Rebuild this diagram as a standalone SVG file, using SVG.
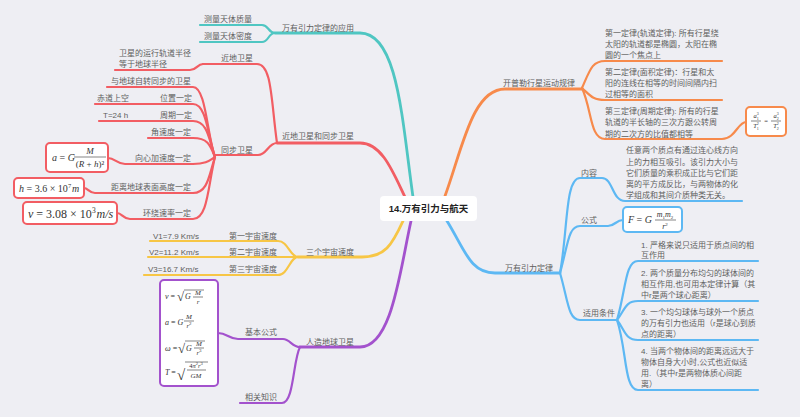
<svg xmlns="http://www.w3.org/2000/svg" width="800" height="417" viewBox="0 0 800 417">
<style>
.t{font-family:"Liberation Sans","Noto Sans CJK SC",sans-serif;font-size:8px;fill:#5e5e5e}
.c{font-family:"Liberation Sans","Noto Sans CJK SC",sans-serif;font-size:9.5px;font-weight:bold;fill:#222}
.m{font-family:"Liberation Serif",serif;font-style:italic;fill:#333}
.n{font-style:normal}
.fb{stroke:#333;stroke-width:0.6}
path{fill:none;stroke-linecap:round;stroke-linejoin:round}
.teal{stroke:#4fc6c2;stroke-width:2.2}
.red{stroke:#f25d63;stroke-width:2.2}
.org{stroke:#f78a4b;stroke-width:2.2}
.yel{stroke:#f7c645;stroke-width:2.2}
.pur{stroke:#a352cd;stroke-width:2.2}
.blu{stroke:#5db8f3;stroke-width:2.2}
.main{stroke-width:2.8}
.box{fill:#fff;stroke-width:2}
</style>
<rect width="800" height="417" fill="#eeeef3"/>
<g id="connectors">
<path class="teal main" d="M413,197 C402,120 398,33 360,33 H275"/>
<path class="teal" d="M275,33 C268,33 269,25 262,25 H200"/>
<path class="teal" d="M275,33 C268,33 269,42 262,42 H200"/>
<path class="red main" d="M405,197 C393,172 382,143 360,143 H277"/>
<path class="red" d="M277,143 C271,100 272,64 257,64 H203"/>
<path class="red" d="M203,64 C197,64 197,70 190,70 H115"/>
<path class="red" d="M277,143 C268,143 267,155 258,155 H215"/>
<path class="red" d="M215,157 C207,135 206,87 193,87 H107"/>
<path class="red" d="M215,157 C208,138 207,104 193,104 H95"/>
<path class="red" d="M215,157 C209,140 208,121 193,121 H99"/>
<path class="red" d="M215,157 C210,145 208,138 193,138 H148"/>
<path class="red" d="M215,157 C210,160 207,164 193,164 H125 C117,164 115,158 108,158"/>
<path class="red" d="M215,157 C209,175 208,193 193,193 H95 C89,193 88,188 84,188"/>
<path class="red" d="M215,157 C208,185 208,219 193,219 H130 C123,219 122,213 117,213"/>
<path class="yel main" d="M403,221 C392,245 385,257 362,257 H298"/>
<path class="yel" d="M298,257 C290,257 288,241 278,241 H150"/>
<path class="yel" d="M298,257 H148"/>
<path class="yel" d="M298,257 C290,257 288,275 278,275 H144"/>
<path class="pur main" d="M411,221 C400,270 392,347 360,347 H300"/>
<path class="pur" d="M300,347 C292,347 290,339 283,339 H238 C229,339 227,333 218,333"/>
<path class="pur" d="M300,347 C293,360 294,403 282,403 H240"/>
<path class="org main" d="M445,196 C462,150 472,89 505,89 H582"/>
<path class="org" d="M582,88 C590,70 592,61 605,61 H722"/>
<path class="org" d="M582,88 C590,95 592,100 605,100 H722"/>
<path class="org" d="M582,88 C592,110 590,139 605,139 H722 C735,139 738,122 746,122"/>
<path class="blu main" d="M447,221 C465,250 470,273 495,273 H560"/>
<path class="blu" d="M560,273 C568,230 565,178 580,178 H602 C613,178 612,201 625,201 H742"/>
<path class="blu" d="M560,273 C568,245 568,226 580,226 H608 C615,226 616,220 623,220"/>
<path class="blu" d="M560,273 C568,300 568,320 580,320 H617"/>
<path class="blu" d="M617,320 C626,290 625,261 638,261 H758"/>
<path class="blu" d="M617,320 C625,310 625,301 638,301 H758"/>
<path class="blu" d="M617,320 C625,330 625,340 638,340 H758"/>
<path class="blu" d="M617,320 C627,350 624,390 638,390 H758"/>
</g>

<g id="root">
<rect x="380" y="196" width="97" height="25" rx="4" fill="#fff"/>
<text class="c" x="428.5" y="212" text-anchor="middle">14.万有引力与航天</text>
</g>

<g id="n-app"><text class="t" x="282" y="31">万有引力定律的应用</text></g>
<g id="n-mass"><text class="t" x="204" y="22" font-size="9.3">测量天体质量</text></g>
<g id="n-density"><text class="t" x="204" y="39" font-size="9.3">测量天体密度</text></g>

<g id="n-sat"><text class="t" x="282" y="139">近地卫星和同步卫星</text></g>
<g id="n-near"><text class="t" x="221" y="61">近地卫星</text></g>
<g id="n-near-r"><text class="t" x="119" y="56">卫星的运行轨道半径</text><text class="t" x="119" y="67">等于地球半径</text></g>
<g id="n-sync"><text class="t" x="221" y="153">同步卫星</text></g>
<g id="n-s1"><text class="t" x="111" y="84">与地球自转同步的卫星</text></g>
<g id="n-s2"><text class="t" x="160" y="101">位置一定</text></g>
<g id="n-s2a"><text class="t" x="97" y="101">赤道上空</text></g>
<g id="n-s3"><text class="t" x="160" y="118">周期一定</text></g>
<g id="n-s3a"><text class="t" x="103" y="118">T=24 h</text></g>
<g id="n-s4"><text class="t" x="151" y="135">角速度一定</text></g>
<g id="n-s5"><text class="t" x="135" y="161">向心加速度一定</text></g>
<g id="n-s5a">
<rect class="red box" x="46" y="143" width="62" height="29" rx="4"/>
<text class="m" x="52" y="161" font-size="10">a <tspan class="n">=</tspan> G</text>
<text class="m" x="90" y="154" font-size="9" text-anchor="middle">M</text>
<line class="fb" x1="74" y1="157" x2="106" y2="157"/>
<text class="m" x="90" y="167" font-size="9" text-anchor="middle"><tspan class="n">(</tspan>R <tspan class="n">+</tspan> h<tspan class="n">)²</tspan></text>
</g>
<g id="n-s6"><text class="t" x="111" y="190">距离地球表面高度一定</text></g>
<g id="n-s6a">
<rect class="red box" x="14" y="178" width="70" height="20" rx="4"/>
<text class="m" x="19" y="192" font-size="10">h <tspan class="n">= 3.6 × 10</tspan></text>
<text class="m n" x="68" y="188" font-size="6.5">7</text>
<text class="m" x="72" y="192" font-size="10">m</text>
</g>
<g id="n-s7"><text class="t" x="143" y="216">环绕速率一定</text></g>
<g id="n-s7a">
<rect class="red box" x="23" y="202" width="94" height="22" rx="4"/>
<text class="m" x="28" y="217.5" font-size="12">v <tspan class="n">= 3.08 × 10</tspan></text>
<text class="m n" x="92" y="212.5" font-size="7.5">3</text>
<text class="m" x="96.5" y="217.5" font-size="12">m/s</text>
</g>

<g id="n-cosmic"><text class="t" x="306" y="255">三个宇宙速度</text></g>
<g id="n-c1"><text class="t" x="229" y="239">第一宇宙速度</text><text class="t" x="153" y="239">V1=7.9 Km/s</text></g>
<g id="n-c2"><text class="t" x="229" y="255">第二宇宙速度</text><text class="t" x="149" y="255">V2=11.2 Km/s</text></g>
<g id="n-c3"><text class="t" x="229" y="272">第三宇宙速度</text><text class="t" x="148" y="272">V3=16.7 Km/s</text></g>

<g id="n-artificial"><text class="t" x="306" y="345">人造地球卫星</text></g>
<g id="n-basic"><text class="t" x="245" y="335">基本公式</text></g>
<g id="n-basic-box">
<rect class="pur box" x="160" y="280" width="58" height="106" rx="4"/>
<text class="m" x="165" y="299" font-size="8">v <tspan class="n">=</tspan></text>
<text class="m n" x="177" y="301" font-size="13" font-style="normal">√</text>
<line class="fb" x1="184" y1="290" x2="204" y2="290"/>
<text class="m" x="185" y="299" font-size="8">G</text>
<text class="m" x="198" y="295" font-size="7" text-anchor="middle">M</text>
<line class="fb" x1="193" y1="297" x2="203" y2="297"/>
<text class="m" x="198" y="304" font-size="7" text-anchor="middle">r</text>

<text class="m" x="165" y="325" font-size="8">a <tspan class="n">=</tspan> G</text>
<text class="m" x="189" y="319" font-size="7" text-anchor="middle">M</text>
<line class="fb" x1="184" y1="321" x2="194" y2="321"/>
<text class="m" x="189" y="328" font-size="7" text-anchor="middle">r<tspan class="n" font-size="5" dy="-3">2</tspan></text>

<text class="m" x="165" y="351" font-size="8">ω <tspan class="n">=</tspan></text>
<text class="m n" x="178" y="353" font-size="13" font-style="normal">√</text>
<line class="fb" x1="185" y1="341" x2="205" y2="341"/>
<text class="m" x="186" y="351" font-size="8">G</text>
<text class="m" x="199" y="346" font-size="7" text-anchor="middle">M</text>
<line class="fb" x1="194" y1="348" x2="204" y2="348"/>
<text class="m" x="199" y="355" font-size="7" text-anchor="middle">r<tspan class="n" font-size="5" dy="-3">3</tspan></text>

<text class="m" x="165" y="375" font-size="8">T <tspan class="n">=</tspan></text>
<text class="m n" x="177" y="380" font-size="15" font-style="normal">√</text>
<line class="fb" x1="185" y1="362" x2="208" y2="362"/>
<text class="m" x="196" y="368" font-size="6.5" text-anchor="middle"><tspan class="n">4</tspan>π<tspan class="n" font-size="4.5" dy="-3">2</tspan><tspan dy="3">r</tspan><tspan class="n" font-size="4.5" dy="-3">3</tspan></text>
<line class="fb" x1="187" y1="370" x2="206" y2="370"/>
<text class="m" x="196" y="378" font-size="7" text-anchor="middle">GM</text>
</g>
<g id="n-related"><text class="t" x="245" y="400">相关知识</text></g>

<g id="n-kepler"><text class="t" x="503" y="86">开普勒行星运动规律</text></g>
<g id="n-k1"><text class="t" x="605" y="36">第一定律(轨道定律): 所有行星绕</text><text class="t" x="605" y="47">太阳的轨道都是椭圆，太阳在椭</text><text class="t" x="605" y="58">圆的一个焦点上</text></g>
<g id="n-k2"><text class="t" x="605" y="75">第二定律(面积定律)：行星和太</text><text class="t" x="605" y="86">阳的连线在相等的时间间隔内扫</text><text class="t" x="605" y="97">过相等的面积</text></g>
<g id="n-k3"><text class="t" x="605" y="114">第三定律(周期定律): 所有的行星</text><text class="t" x="605" y="125">轨道的半长轴的三次方跟公转周</text><text class="t" x="605" y="137">期的二次方的比值都相等</text></g>
<g id="n-k3a">
<rect class="org box" x="746" y="107" width="40" height="29" rx="4"/>
<text class="m" x="756" y="118" font-size="6.5" text-anchor="middle">a<tspan class="n" font-size="4" dy="-3">3</tspan><tspan class="n" font-size="4" dx="-2" dy="5">1</tspan></text>
<line class="fb" x1="751" y1="121" x2="761" y2="121"/>
<text class="m" x="756" y="128" font-size="6.5" text-anchor="middle">T<tspan class="n" font-size="4" dy="-3">2</tspan><tspan class="n" font-size="4" dx="-2" dy="5">1</tspan></text>
<text class="m n" x="766" y="123" font-size="6.5" text-anchor="middle" font-style="normal">=</text>
<text class="m" x="776" y="118" font-size="6.5" text-anchor="middle">a<tspan class="n" font-size="4" dy="-3">3</tspan><tspan class="n" font-size="4" dx="-2" dy="5">2</tspan></text>
<line class="fb" x1="771" y1="121" x2="781" y2="121"/>
<text class="m" x="776" y="128" font-size="6.5" text-anchor="middle">T<tspan class="n" font-size="4" dy="-3">2</tspan><tspan class="n" font-size="4" dx="-2" dy="5">2</tspan></text>
</g>

<g id="n-law"><text class="t" x="505" y="271">万有引力定律</text></g>
<g id="n-content"><text class="t" x="581" y="176">内容</text></g>
<g id="n-content-text">
<text class="t" x="626" y="153">任意两个质点有通过连心线方向</text>
<text class="t" x="626" y="164.5">上的力相互吸引。该引力大小与</text>
<text class="t" x="626" y="176">它们质量的乘积成正比与它们距</text>
<text class="t" x="626" y="187">离的平方成反比，与两物体的化</text>
<text class="t" x="626" y="198">学组成和其间介质种类无关。</text>
</g>
<g id="n-formula"><text class="t" x="581" y="223">公式</text></g>
<g id="n-formula-box">
<rect class="blu box" x="623" y="207" width="59" height="25" rx="4"/>
<text class="m" x="628" y="223" font-size="10">F <tspan class="n">=</tspan> G</text>
<text class="m" x="665" y="217" font-size="8" text-anchor="middle">m<tspan class="n" font-size="5" dy="2">1</tspan><tspan dy="-2">m</tspan><tspan class="n" font-size="5" dy="2">2</tspan></text>
<line class="fb" x1="655" y1="220" x2="676" y2="220"/>
<text class="m" x="665" y="229" font-size="8" text-anchor="middle">r<tspan class="n" font-size="5" dy="-3">2</tspan></text>
</g>
<g id="n-cond"><text class="t" x="583" y="316">适用条件</text></g>
<g id="n-cond1"><text class="t" x="641" y="248">1. 严格来说只适用于质点间的相</text><text class="t" x="641" y="258">互作用</text></g>
<g id="n-cond2"><text class="t" x="641" y="276">2. 两个质量分布均匀的球体间的</text><text class="t" x="641" y="287">相互作用,也可用本定律计算（其</text><text class="t" x="641" y="298">中r是两个球心距离）</text></g>
<g id="n-cond3"><text class="t" x="641" y="315">3. 一个均匀球体与球外一个质点</text><text class="t" x="641" y="326">的万有引力也适用（r是球心到质</text><text class="t" x="641" y="337">点的距离）</text></g>
<g id="n-cond4"><text class="t" x="641" y="354">4. 当两个物体间的距离远远大于</text><text class="t" x="641" y="365">物体自身大小时,公式也近似适</text><text class="t" x="641" y="376">用.（其中r是两物体质心间距</text><text class="t" x="641" y="387">离）</text></g>
</svg>
